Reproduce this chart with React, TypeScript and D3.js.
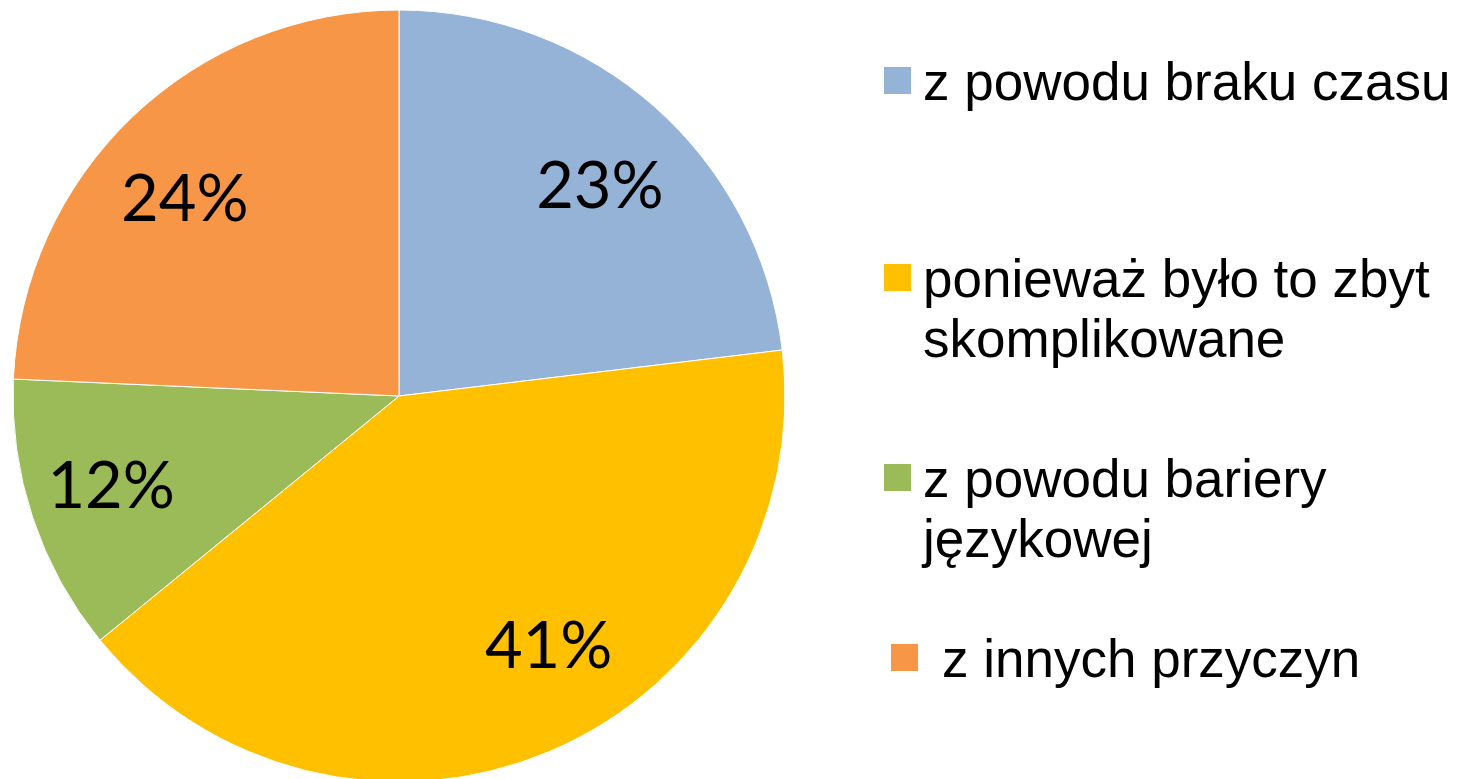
import React from "react";
import * as d3 from "d3";

const categories = [
  "z powodu braku czasu",
  "ponieważ było to zbyt skomplikowane",
  "z powodu bariery językowej",
  "z innych przyczyn",
];
const values = [23.1, 41.0, 11.6, 24.3];
const percentLabels = ["23%", "41%", "12%", "24%"];
const legendLines = [
  ["z powodu braku czasu"],
  ["ponieważ było to zbyt", "skomplikowane"],
  ["z powodu bariery", "językowej"],
  ["z innych przyczyn"],
];
const colors = ["#95B3D7", "#FFC000", "#9BBB59", "#F79646"];

const W = 1463;
const H = 779;
const CX = 399;
const CY = 396;
const R = 386;

// label placement tweaks (degrees, radius fraction)
const labelAngleNudge = [2, -8, 1.3, -3.4];
const labelRadiusFrac = [0.755, 0.752, 0.78, 0.757];

const legendX = [884, 884, 884, 891];
const legendBaseline = [100, 297, 497, 677];
const lineGap = 60;
const sq = 27;

export default function App() {
  const pie = d3
    .pie<number>()
    .sort(null)
    .value((d) => d)
    .startAngle(0)
    .endAngle(2 * Math.PI);
  const arcs = pie(values);
  const arcGen = d3.arc<d3.PieArcDatum<number>>().innerRadius(0).outerRadius(R);

  return (
    <svg
      width={W}
      height={H}
      style={{ position: "absolute", left: 0, top: 0, background: "#fff" }}
    >
      <g transform={`translate(${CX},${CY})`}>
        {arcs.map((a, i) => (
          <path
            key={categories[i]}
            d={arcGen(a) || ""}
            fill={colors[i]}
            stroke="#fff"
            strokeWidth={1}
          />
        ))}
        {arcs.map((a, i) => {
          const mid = (a.startAngle + a.endAngle) / 2 + (labelAngleNudge[i] * Math.PI) / 180;
          const lr = R * labelRadiusFrac[i];
          const lArc = d3.arc<any>().innerRadius(lr).outerRadius(lr);
          const [x, y] = lArc.centroid({ startAngle: mid, endAngle: mid });
          return (
            <text
              key={"l" + i}
              x={x}
              y={y}
              dy="0.36em"
              textAnchor="middle"
              fontFamily="Lato, 'Open Sans', sans-serif"
              fontSize={65}
              fill="#000"
            >
              {percentLabels[i]}
            </text>
          );
        })}
      </g>
      <g>
        {legendLines.map((lines, i) => (
          <g key={"g" + i}>
            <rect
              x={legendX[i]}
              y={legendBaseline[i] - 33}
              width={sq}
              height={sq}
              fill={colors[i]}
            />
            {lines.map((ln, j) => (
              <text
                key={j}
                x={legendX[i] + 39 + (i === 3 ? 12 : 0)}
                y={legendBaseline[i] + j * lineGap}
                fontFamily="'Liberation Sans', Arial, sans-serif"
                fontSize={53}
                fill="#000"
              >
                {ln}
              </text>
            ))}
          </g>
        ))}
      </g>
    </svg>
  );
}
